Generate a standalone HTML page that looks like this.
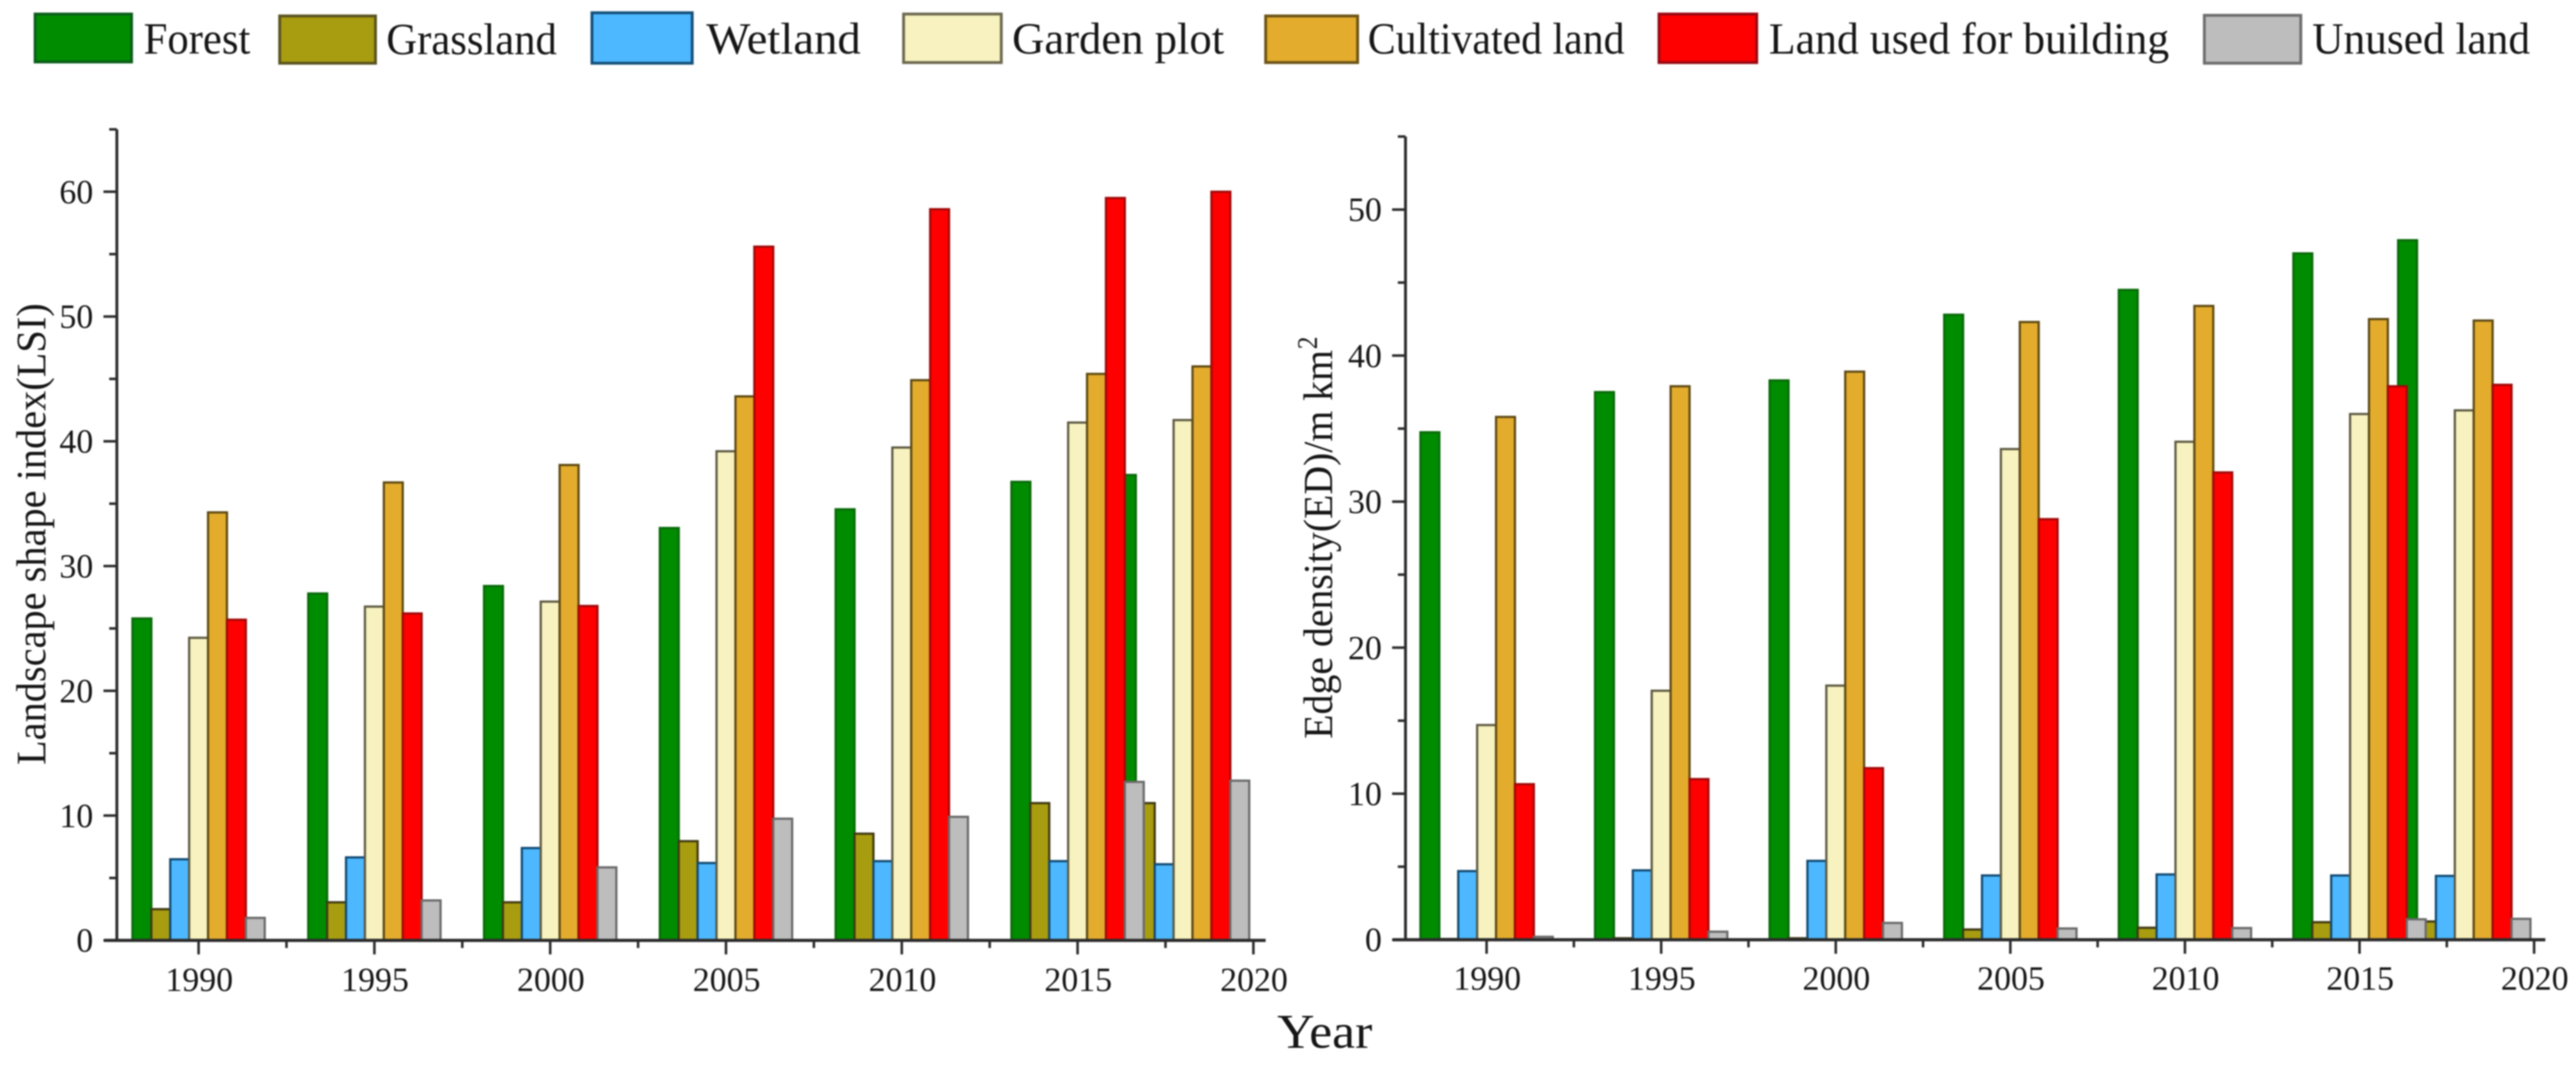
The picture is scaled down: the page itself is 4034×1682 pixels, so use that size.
<!DOCTYPE html>
<html lang="en">
<head>
<meta charset="utf-8">
<title>Landscape shape index and edge density by land type</title>
<style>
  html, body { margin: 0; padding: 0; background: #fff; width: 4034px; height: 1682px; overflow: hidden; }
  svg { display: block; filter: blur(1px); }
  text { font-family: "Liberation Serif", serif; fill: #161616; }
</style>
</head>
<body>
<svg id="figure" xmlns="http://www.w3.org/2000/svg" width="4034" height="1682" viewBox="0 0 4034 1682">
  <rect x="0" y="0" width="4034" height="1682" fill="#fff"/>

  <g>
    <g>
      <rect x="55" y="22" width="151" height="75" fill="#008c00" stroke="#0b5e1a" stroke-width="4.5"/>
      <text x="225" y="84" font-size="70" textLength="167" lengthAdjust="spacingAndGlyphs">Forest</text>
    </g>
    <g>
      <rect x="438" y="25" width="150" height="74" fill="#a89c10" stroke="#5a5320" stroke-width="4.5"/>
      <text x="605" y="85" font-size="70" textLength="267" lengthAdjust="spacingAndGlyphs">Grassland</text>
    </g>
    <g>
      <rect x="927" y="20" width="157" height="79" fill="#4db8ff" stroke="#15507a" stroke-width="4.5"/>
      <text x="1106" y="84" font-size="70" textLength="242" lengthAdjust="spacingAndGlyphs">Wetland</text>
    </g>
    <g>
      <rect x="1415" y="22" width="153" height="76" fill="#f7f2bf" stroke="#6e6a50" stroke-width="4.5"/>
      <text x="1585" y="84" font-size="70" textLength="332" lengthAdjust="spacingAndGlyphs">Garden plot</text>
    </g>
    <g>
      <rect x="1982" y="25" width="144" height="73" fill="#e3ac2d" stroke="#6b5418" stroke-width="4.5"/>
      <text x="2142" y="84" font-size="70" textLength="402" lengthAdjust="spacingAndGlyphs">Cultivated land</text>
    </g>
    <g>
      <rect x="2598" y="22" width="153" height="76" fill="#ff0000" stroke="#9a0a14" stroke-width="4.5"/>
      <text x="2770" y="84" font-size="70" textLength="627" lengthAdjust="spacingAndGlyphs">Land used for building</text>
    </g>
    <g>
      <rect x="3452" y="24" width="151" height="75" fill="#bdbdbd" stroke="#6e6e6e" stroke-width="4.5"/>
      <text x="3621" y="84" font-size="70" textLength="341" lengthAdjust="spacingAndGlyphs">Unused land</text>
    </g>
  </g>

  <g id="left-chart"></g>
  <g id="right-chart"></g>

  <text transform="translate(71,1198) rotate(-90)" font-size="66" textLength="723" lengthAdjust="spacingAndGlyphs">Landscape shape index(LSI)</text>
  <text transform="translate(2086,1157) rotate(-90)" font-size="65" textLength="609" lengthAdjust="spacingAndGlyphs">Edge density(ED)/m km</text>
  <text transform="translate(2062,547) rotate(-90)" font-size="44" textLength="20" lengthAdjust="spacingAndGlyphs">2</text>
  <text x="2000" y="1641" font-size="76" textLength="149" lengthAdjust="spacingAndGlyphs">Year</text>
</svg>

<script>
const years = [1990, 1995, 2000, 2005, 2010, 2015, 2018];
const seriesNames = ['forest', 'grassland', 'wetland', 'garden-plot', 'cultivated-land', 'building-land', 'unused-land'];
const seriesFill = ['#008c00', '#a89c10', '#4db8ff', '#f7f2bf', '#e3ac2d', '#ff0000', '#bdbdbd'];
const seriesStroke = ['#0a6a0a', '#403a14', '#124a72', '#5e5a42', '#5e4a14', '#a00a0a', '#6a6a6a'];

const lsiForest = [25.8, 27.8, 28.4, 33.05, 34.55, 36.75, 37.3];
const lsiGrassland = [2.5, 3.05, 3.05, 7.95, 8.55, 11, 11];
const lsiWetland = [6.5, 6.65, 7.4, 6.2, 6.35, 6.35, 6.1];
const lsiGarden = [24.25, 26.75, 27.15, 39.2, 39.5, 41.5, 41.7];
const lsiCultivated = [34.3, 36.7, 38.1, 43.6, 44.9, 45.4, 46];
const lsiBuilding = [25.7, 26.2, 26.8, 55.6, 58.6, 59.5, 60];
const lsiUnused = [1.8, 3.2, 5.85, 9.75, 9.9, 12.7, 12.8];

const edForest = [34.75, 37.5, 38.3, 42.8, 44.5, 47, 47.9];
const edGrassland = [0.05, 0.1, 0.1, 0.7, 0.82, 1.2, 1.25];
const edWetland = [4.7, 4.75, 5.4, 4.4, 4.47, 4.4, 4.37];
const edGarden = [14.7, 17.05, 17.4, 33.6, 34.1, 36, 36.25];
const edCultivated = [35.8, 37.9, 38.9, 42.3, 43.4, 42.5, 42.4];
const edBuilding = [10.65, 11, 11.75, 28.8, 32, 37.9, 38];
const edUnused = [0.2, 0.55, 1.15, 0.77, 0.8, 1.4, 1.43];

const xTickLabels = [1990, 1995, 2000, 2005, 2010, 2015, 2020];
const lsiTickLabels = [0, 10, 20, 30, 40, 50, 60];
const edTickLabels = [0, 10, 20, 30, 40, 50];

const lsiSeries = [lsiForest, lsiGrassland, lsiWetland, lsiGarden, lsiCultivated, lsiBuilding, lsiUnused];
const edSeries = [edForest, edGrassland, edWetland, edGarden, edCultivated, edBuilding, edUnused];

const NS = 'http://www.w3.org/2000/svg';

function makeLine(parent, x1, y1, x2, y2, width, name) {
  const el = document.createElementNS(NS, 'line');
  el.setAttribute('x1', x1);
  el.setAttribute('y1', y1);
  el.setAttribute('x2', x2);
  el.setAttribute('y2', y2);
  el.setAttribute('stroke', '#2c2c2c');
  el.setAttribute('stroke-width', width);
  
  
  parent.appendChild(el);
}

function makeLabel(parent, x, y, anchor, content, name) {
  const el = document.createElementNS(NS, 'text');
  el.setAttribute('x', x);
  el.setAttribute('y', y);
  el.setAttribute('text-anchor', anchor);
  el.setAttribute('font-size', '53');
  
  
  el.textContent = content;
  parent.appendChild(el);
}

function drawChart(parent, cfg) {
  const xScale = function (year) { return cfg.x1990 + (year - 1990) * cfg.pxPerYear; };
  const yScale = function (value) { return cfg.y0 - value * cfg.pxPerUnit; };
  const barWidth = 29.6;

  cfg.series.forEach(function (values, s) {
    values.forEach(function (value, i) {
      const left = xScale(years[i]) + (s - 3.5) * barWidth;
      const top = yScale(value);
      const bar = document.createElementNS(NS, 'rect');
      bar.setAttribute('x', left);
      bar.setAttribute('y', top);
      bar.setAttribute('width', barWidth);
      bar.setAttribute('height', cfg.y0 - top);
      bar.setAttribute('fill', seriesFill[s]);
      bar.setAttribute('stroke', seriesStroke[s]);
      bar.setAttribute('stroke-width', '3.5');
      
      
      parent.appendChild(bar);
    });
  });

  const axisX = cfg.axisX;
  makeLine(parent, axisX, yScale(cfg.yMax), axisX, cfg.y0 + 2, 4.5, 'y-axis-line');
  makeLine(parent, axisX - 20, cfg.y0, cfg.xEnd, cfg.y0, 5, 'x-axis-line');

  cfg.yLabels.forEach(function (value) {
    const y = yScale(value);
    makeLine(parent, axisX - 21, y, axisX, y, 4, 'y-major-tick-' + value);
    makeLabel(parent, axisX - 37, y + 18, 'end', String(value), 'y-tick-label-' + value);
    if (value + 5 < cfg.yMax + 0.01) {
      const minorY = yScale(value + 5);
      makeLine(parent, axisX - 12, minorY, axisX, minorY, 4, 'y-minor-tick-' + (value + 5));
    }
  });

  xTickLabels.forEach(function (year, i) {
    const x = xScale(year);
    makeLine(parent, x, cfg.y0, x, cfg.y0 + 22, 4, 'x-major-tick-' + year);
    makeLabel(parent, x + 1, cfg.labelBaseline, 'middle', String(year), 'x-tick-label-' + year);
    if (i < xTickLabels.length - 1) {
      const minorX = xScale(year + 2.5);
      makeLine(parent, minorX, cfg.y0, minorX, cfg.y0 + 12, 4, 'x-minor-tick-' + (year + 2.5));
    }
  });
}

drawChart(document.getElementById('left-chart'), {
  series: lsiSeries, yLabels: lsiTickLabels, yMax: 65,
  x1990: 311, pxPerYear: 55.06, y0: 1472.7, pxPerUnit: 19.54,
  axisX: 183, xEnd: 1982, labelBaseline: 1552
});
drawChart(document.getElementById('right-chart'), {
  series: edSeries, yLabels: edTickLabels, yMax: 55,
  x1990: 2328, pxPerYear: 54.68, y0: 1471.7, pxPerUnit: 22.87,
  axisX: 2201, xEnd: 3986, labelBaseline: 1550
});
</script>
</body>
</html>
